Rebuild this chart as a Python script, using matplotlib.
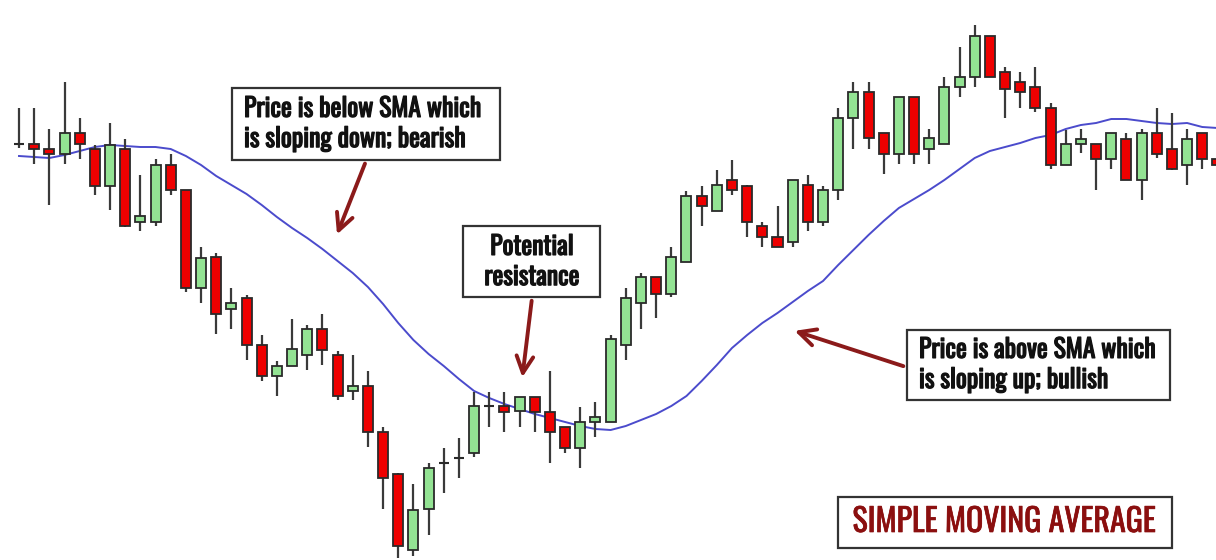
import matplotlib
matplotlib.use("Agg")
import matplotlib.pyplot as plt
import matplotlib.patheffects as pe
from matplotlib.patches import Rectangle
import numpy as np

# candle data (price units, larger = higher)
opens = [416, 416, 411, 406, 427, 411, 374, 411, 338, 338,
         395, 370, 272, 303, 251, 262, 215, 184, 194, 205,
         231, 205, 169, 174, 128, 86, 10, 51, 97, 102,
         107, 154, 154, 149, 163, 148, 133, 112, 138, 138,
         215, 257, 283, 266, 298, 364, 349, 380, 374, 334,
         323, 318, 375, 338, 370, 442, 468, 427, 406, 463,
         411, 416, 473, 483, 524, 488, 478, 473, 452, 395,
         416, 416, 401, 421, 380, 427, 411, 395, 427, 401]
highs = [452, 452, 431, 478, 442, 415, 437, 421, 385, 401,
         406, 370, 313, 307, 272, 265, 225, 199, 241, 235,
         246, 209, 205, 189, 133, 87, 76, 97, 112, 122,
         168, 168, 168, 163, 163, 189, 133, 153, 158, 225,
         272, 287, 283, 313, 369, 374, 390, 400, 375, 338,
         354, 380, 385, 374, 452, 478, 478, 427, 463, 463,
         431, 483, 513, 535, 524, 493, 488, 493, 457, 430,
         431, 416, 427, 427, 431, 452, 447, 431, 427, 401]
lows = [412, 396, 355, 396, 401, 365, 350, 333, 329, 334,
        365, 268, 257, 226, 231, 200, 179, 164, 194, 190,
        195, 160, 160, 113, 51, 2, 4, 25, 67, 82,
        103, 133, 128, 133, 128, 97, 107, 92, 123, 138,
        200, 231, 242, 263, 298, 334, 349, 365, 323, 313,
        313, 313, 329, 334, 360, 411, 411, 386, 396, 396,
        396, 416, 463, 473, 483, 442, 452, 448, 391, 395,
        407, 370, 391, 380, 360, 402, 390, 375, 391, 395]
closes = [416, 411, 406, 427, 416, 374, 415, 334, 344, 395,
          370, 272, 302, 246, 257, 215, 184, 194, 211, 231,
          210, 164, 174, 128, 82, 14, 50, 92, 97, 102,
          154, 154, 148, 163, 148, 128, 112, 138, 143, 221,
          262, 283, 266, 303, 364, 354, 375, 370, 338, 323,
          313, 380, 338, 370, 442, 468, 422, 406, 463, 406,
          422, 473, 483, 524, 483, 471, 468, 452, 395, 416,
          421, 401, 427, 380, 427, 406, 391, 421, 401, 395]
sma = [404, 403, 402, 405, 409, 413, 415, 414, 413, 413,
       411, 404, 395, 384, 375, 366, 355, 343, 332, 322,
       311, 299, 287, 273, 256, 237, 220, 206, 194, 181,
       169, 162, 156, 151, 146, 142, 138, 134, 131, 130,
       134, 140, 146, 154, 164, 179, 195, 212, 225, 237,
       247, 258, 269, 279, 295, 310, 325, 339, 352, 361,
       370, 380, 391, 402, 409, 413, 417, 422, 425, 431,
       435, 437, 441, 441, 439, 437, 436, 437, 433, 432]

x = np.arange(len(opens))
o = np.array(opens); h = np.array(highs); l = np.array(lows); c = np.array(closes)
up = c >= o

RED = '#ee0000'
GREEN = '#93e393'
DARKRED = '#8b1a1a'

fig = plt.figure(figsize=(12.16, 5.6), dpi=100)
ax = fig.add_axes([0, 0, 1, 1])
ax.set_xlim(-19 / 15.17, (1216 - 19) / 15.17)
ax.set_ylim(0, 560)
ax.axis('off')

# sma line
ax.plot(x, sma, color='#4b4bcc', lw=1.4, zorder=1)

# wicks + bodies
ax.vlines(x, l, h, color='#3a3a3a', lw=1.6, zorder=2)
ax.bar(x, np.abs(c - o), bottom=np.minimum(o, c), width=0.66,
       color=np.where(up, GREEN, RED), edgecolor='#2a2a2a', linewidth=1.3, zorder=3)
doji = c == o
ax.hlines(o[doji], x[doji] - 0.33, x[doji] + 0.33, color='#2a2a2a', lw=1.5, zorder=3)

fam = ['Oswald', 'Roboto Condensed', 'DejaVu Sans']
bold = [pe.withStroke(linewidth=0.9, foreground='#111111')]

def px(xp, yp):
    return (xp / 1216, 1 - yp / 560)

def box(x0, y0, x1, y1):
    ax.add_patch(Rectangle(px(x0, y1), (x1 - x0) / 1216, (y1 - y0) / 560,
                           transform=ax.transAxes, fc='white', ec='#333333',
                           lw=1.6, zorder=5))

def arrow(tail, head):
    ax.annotate('', xy=px(*head), xytext=px(*tail), xycoords='axes fraction',
                arrowprops=dict(arrowstyle='->', color=DARKRED, lw=2.8,
                                mutation_scale=30), zorder=6)

# bearish note
box(232, 88, 500, 160)
ax.text(*px(244, 124), 'Price is below SMA which\nis sloping down; bearish',
        transform=ax.transAxes, ha='left', va='center', fontsize=18.5,
        color='#111111', family=fam, linespacing=1.2, path_effects=bold, zorder=6)
arrow((366, 161), (336, 237))

# resistance note
box(463, 226, 600, 297)
ax.text(*px(532, 262), 'Potential\nresistance', transform=ax.transAxes,
        ha='center', va='center', fontsize=18.5, color='#111111', family=fam,
        linespacing=1.2, path_effects=bold, zorder=6)
arrow((532, 298), (522, 380))

# bullish note
box(907, 330, 1170, 400)
ax.text(*px(919, 365), 'Price is above SMA which\nis sloping up; bullish',
        transform=ax.transAxes, ha='left', va='center', fontsize=18.5,
        color='#111111', family=fam, linespacing=1.2, path_effects=bold, zorder=6)
arrow((906, 367), (792, 330))

# title box
box(838, 497, 1172, 548)
ax.text(*px(1004, 522), 'SIMPLE MOVING AVERAGE', transform=ax.transAxes,
        ha='center', va='center', fontsize=23, color='#8b0f0f', family=fam,
        path_effects=[pe.withStroke(linewidth=0.5, foreground='#8b0f0f')],
        zorder=6)

fig.savefig('out.png', dpi=100, facecolor='white')
